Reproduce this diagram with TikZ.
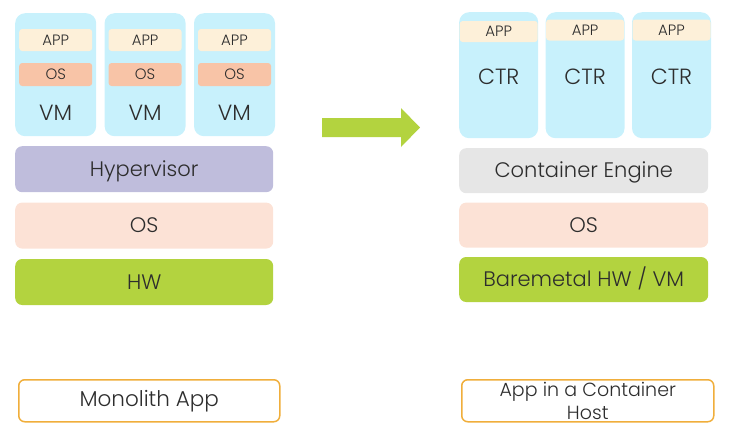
\documentclass[tikz,border=0pt]{standalone}
\usepackage{fontspec}
\setmainfont{Poppins}[UprightFont=* Light]
\usetikzlibrary{positioning}
\definecolor{colortext}  {RGB}{45,45,45}
\definecolor{colorvm}    {RGB}{200,241,252}
\definecolor{colorapp}   {RGB}{253,240,217}
\definecolor{colorguest} {RGB}{248,196,167}
\definecolor{colorhyp}   {RGB}{191,189,220}
\definecolor{colorhost}  {RGB}{252,226,214}
\definecolor{colorhw}    {RGB}{179,211,63}
\definecolor{colorengine}{RGB}{230,230,230}
\definecolor{colorframe} {RGB}{240,174,59}

\begin{document}
\begin{tikzpicture}[
    x=1pt, y=-1pt,
    text=colortext,
    base/.style={inner sep=0pt,align=center,rectangle},
    vmbox/.style={base,fill=colorvm,rounded corners=10pt,minimum width=81pt,minimum height=123pt},
    ctrbox/.style={base,fill=colorvm,rounded corners=10pt,minimum width=79pt,minimum height=126pt},
    appbox/.style={base,fill=colorapp,rounded corners=3pt,minimum width=73pt,minimum height=22pt,font=\fontsize{15}{17}\selectfont},
    guestbox/.style={base,fill=colorguest,rounded corners=3pt,minimum width=73pt,minimum height=23pt,font=\fontsize{15}{17}\selectfont},
    layer/.style={base,rounded corners=7pt,minimum width=258pt,minimum height=46pt,text height=15pt,text depth=1pt,font=\fontsize{21}{24}\selectfont},
    rlayer/.style={layer,minimum width=249pt,minimum height=45pt},
    caption/.style={base,draw=colorframe,line width=1.5pt,rounded corners=6pt,minimum height=42pt,font=\fontsize{19}{23}\selectfont},
    vmtxt/.style={font=\fontsize{22}{24}\selectfont},
]
    \useasboundingbox (0,0) rectangle (729,432);

    % Virtual machines
    \node[vmbox,anchor=north west] (vm1) at (15,13) {};
    \node[vmbox,right=8pt of vm1] (vm2) {};
    \node[vmbox,right=8pt of vm2] (vm3) {};
    \node[appbox]   (vmapp1) at ([yshift=-27pt]vm1.north) {APP};
    \node[guestbox] (vmos1)  at ([yshift=-61.5pt]vm1.north) {OS};
    \node[vmtxt]    (vmlbl1) at ([yshift=-100pt]vm1.north) {VM};
    \node[appbox]   (vmapp2) at ([yshift=-27pt]vm2.north) {APP};
    \node[guestbox] (vmos2)  at ([yshift=-61.5pt]vm2.north) {OS};
    \node[vmtxt]    (vmlbl2) at ([yshift=-100pt]vm2.north) {VM};
    \node[appbox]   (vmapp3) at ([yshift=-27pt]vm3.north) {APP};
    \node[guestbox] (vmos3)  at ([yshift=-61.5pt]vm3.north) {OS};
    \node[vmtxt]    (vmlbl3) at ([yshift=-100pt]vm3.north) {VM};

    % Host stack
    \node[layer,fill=colorhyp,anchor=north west] (hyp) at (15,146) {Hypervisor};
    \node[layer,fill=colorhost,below=10pt of hyp] (hostos) {OS};
    \node[layer,fill=colorhw,below=10pt of hostos] (hw) {HW};

    % Arrow
    \fill[colorhw] (322,118) -- (401,118) -- (401,108) -- (420,127.5)
        -- (401,147) -- (401,137) -- (322,137) -- cycle;

    % Containers
    \node[ctrbox,anchor=north west] (ctr1) at (459,12) {};
    \node[ctrbox,right=7pt of ctr1] (ctr2) {};
    \node[ctrbox,right=7pt of ctr2] (ctr3) {};
    \node[appbox,minimum width=78pt,minimum height=21pt] (ctrapp1) at ([yshift=-19.5pt]ctr1.north) {APP};
    \node[vmtxt] (ctrlbl1) at ([yshift=-65pt]ctr1.north) {CTR};
    \node[appbox,minimum width=78pt,minimum height=21pt] (ctrapp2) at ([yshift=-18pt]ctr2.north) {APP};
    \node[vmtxt] (ctrlbl2) at ([yshift=-65pt]ctr2.north) {CTR};
    \node[appbox,minimum width=78pt,minimum height=21pt] (ctrapp3) at ([yshift=-18pt]ctr3.north) {APP};
    \node[vmtxt] (ctrlbl3) at ([yshift=-65pt]ctr3.north) {CTR};

    % Container host stack
    \node[rlayer,fill=colorengine,anchor=north west] (engine) at (459,148) {Container Engine};
    \node[rlayer,fill=colorhost,below=9pt of engine] (ctros) {OS};
    \node[rlayer,fill=colorhw,below=9pt of ctros] (metal) {Baremetal HW / VM};

    % Captions
    \node[caption,minimum width=261pt,anchor=north west,font=\fontsize{21.5}{23}\selectfont] (monolith) at (18,379) {Monolith App};
    \node[caption,minimum width=252pt,anchor=north west] (containerhost) at (461,379) {App in a Container\\Host};

\end{tikzpicture}
\end{document}
